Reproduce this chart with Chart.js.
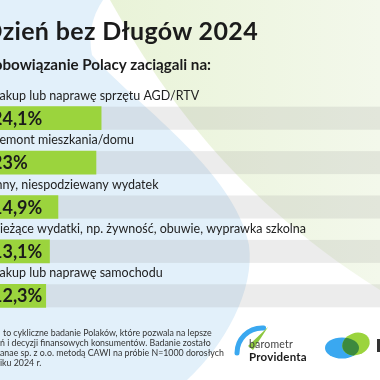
<!DOCTYPE html>
<html>
<head>
<meta charset="utf-8">
<script src="https://cdn.jsdelivr.net/npm/chart.js@4.4.1/dist/chart.umd.min.js"></script>
<style>
html,body{margin:0;padding:0;width:380px;height:380px;overflow:hidden;background:#fff;font-family:Lato,"Noto Sans",sans-serif;}
#wrap{position:absolute;left:-40px;top:0;width:420px;height:380px;}
.t{position:absolute;white-space:nowrap;color:#1b1b1b;line-height:1;}
#title{right:122px;top:18px;font-size:25px;font-weight:700;letter-spacing:0.35px;}
#sub{right:169px;top:57px;font-size:15.2px;font-weight:700;}
.foot{position:absolute;left:0;width:204px;font-size:8.8px;line-height:1;color:#333;text-align:justify;text-align-last:justify;white-space:nowrap;}
#brand1{left:249px;top:339px;font-size:10.5px;color:#444;letter-spacing:0.2px;}
#brand2{left:249px;top:351px;font-size:11.5px;font-weight:700;letter-spacing:0.2px;}
</style>
</head>
<body>
<div id="wrap"><canvas id="c" width="420" height="380"></canvas></div>
<div class="t" id="title">Dzień bez Długów 2024</div>
<div class="t" id="sub">Zobowiązanie Polacy zaciągali na:</div>
<div class="foot" style="top:329px;padding-left:3px;width:201px">to cykliczne badanie Polaków, które pozwala na lepsze</div>
<div class="foot" style="top:339px">ń i decyzji finansowych konsumentów. Badanie zostało</div>
<div class="foot" style="top:349px">anae sp. z o.o. metodą CAWI na próbie N=1000 dorosłych</div>
<div class="foot" style="top:359px;width:auto;text-align:left;text-align-last:auto">iku 2024 r.</div>
<div class="t" id="brand1">barometr</div>
<div class="t" id="brand2">Providenta</div>
<script>
// ── dane ──
var labels = ['Zakup lub naprawę sprzętu AGD/RTV','Remont mieszkania/domu','Inny, niespodziewany wydatek','Bieżące wydatki, np. żywność, obuwie, wyprawka szkolna','Zakup lub naprawę samochodu'];
var values = [24.1, 23, 14.9, 13.1, 12.3];
var xMax = 83.5;

var OFF = 40; // canvas przesunięty w lewo
var green = '#9bd43d', blue = '#3aa8f0';
var LBL_FONT = '12.5px Lato', VAL_FONT = 'bold 18px Lato';

function fmt(v){ return String(v).replace('.', ',') + '%'; }

var decor = {
  id:'decor',
  beforeDraw:function(chart){
    var ctx = chart.ctx;
    ctx.save();
    ctx.translate(OFF,0);
    ctx.fillStyle = '#fff';
    ctx.fillRect(-OFF,0,420,380);
    // niebieskie tło
    ctx.beginPath();
    ctx.moveTo(-OFF,0); ctx.lineTo(103,0);
    ctx.quadraticCurveTo(86,25,92,55);
    ctx.bezierCurveTo(130,100,235,170,249,245);
    ctx.bezierCurveTo(255,290,225,345,187,380);
    ctx.lineTo(-OFF,380); ctx.closePath();
    ctx.fillStyle = '#e2f0fa'; ctx.fill();
    // zielone tło
    var g = ctx.createLinearGradient(110,0,380,0);
    g.addColorStop(0,'#e9f3d8'); g.addColorStop(1,'#f3f8eb');
    ctx.beginPath();
    ctx.moveTo(110,0);
    ctx.bezierCurveTo(150,70,220,190,380,290);
    ctx.lineTo(380,0); ctx.closePath();
    ctx.fillStyle = g; ctx.fill();
    ctx.restore();
  },
  beforeDatasetsDraw:function(chart){
    var ctx = chart.ctx, y = chart.scales.y;
    ctx.save();
    ctx.fillStyle = 'rgba(150,150,150,0.18)';
    labels.forEach(function(l,i){
      var cy = y.getPixelForValue(i);
      ctx.fillRect(0, cy-11.5, chart.width, 23);
    });
    ctx.restore();
  },
  afterDatasetsDraw:function(chart){
    var ctx = chart.ctx, a = chart.chartArea, y = chart.scales.y;
    ctx.save();
    ctx.textAlign = 'left';
    labels.forEach(function(l,i){
      var cy = y.getPixelForValue(i);
      ctx.fillStyle = '#222';
      ctx.font = LBL_FONT;
      ctx.fillText(l, a.left+4, cy-18.5);
      ctx.fillStyle = '#1b1b1b';
      ctx.font = VAL_FONT;
      ctx.fillText(fmt(values[i]), a.left+4, cy+6.5);
    });
    ctx.restore();
  },
  afterDraw:function(chart){
    var ctx = chart.ctx;
    ctx.save();
    ctx.translate(OFF,0);
    // logo barometr
    ctx.beginPath();
    ctx.arc(262,353,25,Math.PI*1.0,Math.PI*1.52);
    ctx.strokeStyle = blue; ctx.lineWidth = 5; ctx.lineCap = 'round'; ctx.stroke();
    ctx.beginPath();
    ctx.moveTo(248,346); ctx.lineTo(253,350); ctx.lineTo(268,327); ctx.closePath();
    ctx.fillStyle = '#8cc63f'; ctx.fill();
    // logo 2
    ctx.beginPath(); ctx.ellipse(342,348,17,10.5,0,0,Math.PI*2);
    ctx.fillStyle = blue; ctx.fill();
    ctx.beginPath(); ctx.ellipse(356,344,14,11,-0.35,0,Math.PI*2);
    ctx.fillStyle = green; ctx.fill();
    ctx.save();
    ctx.beginPath(); ctx.ellipse(342,348,17,10.5,0,0,Math.PI*2); ctx.clip();
    ctx.beginPath(); ctx.ellipse(356,344,14,11,-0.35,0,Math.PI*2);
    ctx.fillStyle = '#3c8a3e'; ctx.fill();
    ctx.restore();
    ctx.fillStyle = '#333';
    ctx.fillRect(377,339,3,13);
    ctx.restore();
  }
};

function draw(){
  new Chart(document.getElementById('c'), {
    type:'bar',
    data:{labels:labels, datasets:[{data:values, backgroundColor:green, borderWidth:0, barThickness:23}]},
    options:{
      indexAxis:'y', responsive:false, animation:false, devicePixelRatio:1,
      layout:{padding:{left:28,right:0,top:96,bottom:62}},
      plugins:{legend:{display:false}, tooltip:{enabled:false}},
      scales:{
        x:{min:0,max:xMax,display:false},
        y:{display:false}
      }
    },
    plugins:[decor]
  });
}

Promise.all([document.fonts.load(LBL_FONT), document.fonts.load(VAL_FONT)]).then(draw, draw);
</script>
</body>
</html>
